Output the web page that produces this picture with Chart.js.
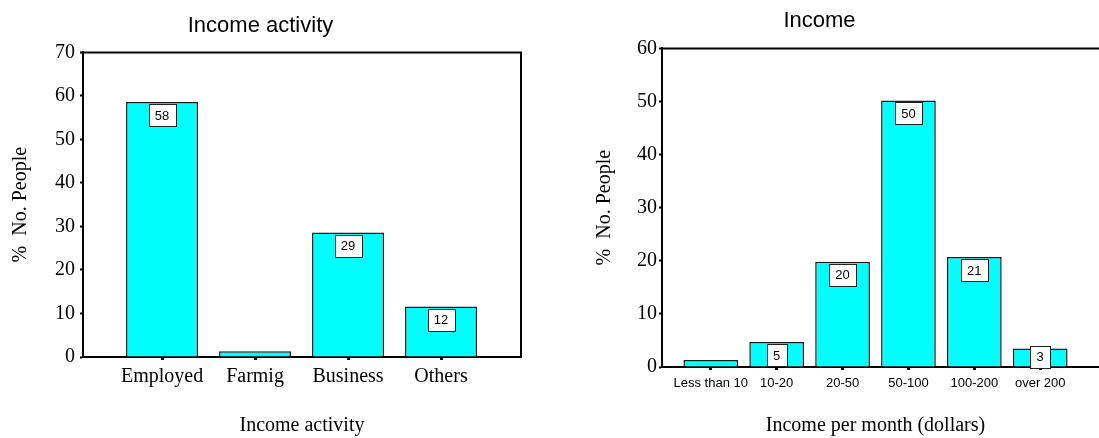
<!DOCTYPE html>
<html>
<head>
<meta charset="utf-8">
<script src="https://cdn.jsdelivr.net/npm/chart.js@4.4.1/dist/chart.umd.min.js"></script>
<style>
  html, body { margin: 0; padding: 0; background: #fff; overflow: hidden; }
  #wrap { position: relative; width: 1099px; height: 438px; }
  #c1 { position: absolute; left: 0; top: 0; }
  #c2 { position: absolute; left: 550px; top: 0; }
</style>
</head>
<body>
<div id="wrap">
  <canvas id="c1" width="550" height="438"></canvas>
  <canvas id="c2" width="549" height="438"></canvas>
</div>
<script>
// left chart: income activity
const activityLabels = ['Employed', 'Farmig', 'Business', 'Others'];
const activityValues = [58.6, 1.3, 28.6, 11.6];
const activityBoxes = [58, null, 29, 12];
const activityTicks = [0, 10, 20, 30, 40, 50, 60, 70];

// right chart: income per month
const incomeLabels = ['Less than 10', '10-20', '20-50', '50-100', '100-200', 'over 200'];
const incomeValues = [1.3, 4.7, 19.8, 50.2, 20.7, 3.5];
const incomeBoxes = [null, 5, 20, 50, 21, 3];
const incomeTicks = [0, 10, 20, 30, 40, 50, 60];

const serif = '"Liberation Serif", "Times New Roman", serif';
const sans = '"Liberation Sans", Arial, sans-serif';

function framePlugin(extendRight) {
  return {
    id: 'frame',
    afterDraw(chart) {
      const ctx = chart.ctx;
      const a = chart.chartArea;
      ctx.save();
      ctx.strokeStyle = '#000';
      ctx.lineWidth = 2;
      ctx.beginPath();
      if (extendRight) {
        ctx.moveTo(a.left, a.top);
        ctx.lineTo(chart.width, a.top);
        ctx.moveTo(a.right, a.bottom);
        ctx.lineTo(chart.width, a.bottom);
      } else {
        ctx.moveTo(a.left, a.top);
        ctx.lineTo(a.right, a.top);
        ctx.lineTo(a.right, a.bottom);
      }
      ctx.stroke();
      ctx.restore();
    }
  };
}

function boxPlugin(boxes) {
  return {
    id: 'boxes',
    afterDraw(chart) {
      const ctx = chart.ctx;
      const meta = chart.getDatasetMeta(0);
      ctx.save();
      ctx.font = '13px ' + sans;
      ctx.textAlign = 'center';
      ctx.textBaseline = 'middle';
      meta.data.forEach((bar, i) => {
        const v = boxes[i];
        if (v == null) return;
        const t = String(v);
        const w = Math.round(ctx.measureText(t).width + 13);
        const h = 22;
        const cy = Math.min(bar.y + 13, bar.base - 10);
        const x0 = Math.round(bar.x - w / 2) + 0.5;
        const y0 = Math.round(cy - h / 2) + 0.5;
        ctx.fillStyle = '#fff';
        ctx.fillRect(x0, y0, w, h);
        ctx.strokeStyle = '#222';
        ctx.lineWidth = 1;
        ctx.strokeRect(x0, y0, w, h);
        ctx.fillStyle = '#000';
        ctx.fillText(t, bar.x, cy + 1);
      });
      ctx.restore();
    }
  };
}

function makeChart(canvas, cfg) {
  return new Chart(canvas.getContext('2d'), {
    type: 'bar',
    data: {
      datasets: [{
        data: cfg.values.map((v, i) => ({ x: i, y: v })),
        backgroundColor: '#00FFFF',
        borderColor: '#1a1a1a',
        borderWidth: 1.5,
        borderSkipped: 'bottom',
        barPercentage: 1,
        categoryPercentage: cfg.barFrac
      }]
    },
    options: {
      responsive: false,
      animation: false,
      layout: { padding: { left: 0, right: cfg.padRight, top: 0, bottom: 0 } },
      plugins: {
        legend: { display: false },
        tooltip: { enabled: false },
        title: {
          display: true,
          text: cfg.title,
          color: '#000',
          font: { family: sans, size: 22, weight: 'normal' },
          padding: { top: cfg.titleTop, bottom: cfg.titleBottom }
        }
      },
      scales: {
        x: {
          type: 'linear',
          offset: false,
          min: cfg.xMin,
          max: cfg.xMax,
          afterBuildTicks: (scale) => {
            scale.ticks = cfg.labels.map((_, i) => ({ value: i }));
          },
          afterFit: (scale) => { scale.height = cfg.xHeight; },
          ticks: {
            autoSkip: false,
            maxRotation: 0,
            color: '#000',
            padding: cfg.xTickPad,
            font: cfg.xTickFont,
            callback: (v) => cfg.labels[v]
          },
          grid: { offset: false, drawOnChartArea: false, drawTicks: true, tickLength: 3, tickWidth: 3, tickColor: '#000' },
          border: { display: true, color: '#000', width: 2 },
          title: {
            display: true,
            text: cfg.xTitle,
            color: '#000',
            font: { family: serif, size: 20 },
            padding: { top: 0, bottom: 0 }
          }
        },
        y: {
          min: 0,
          max: cfg.yTicks[cfg.yTicks.length - 1],
          afterBuildTicks: (scale) => {
            scale.ticks = cfg.yTicks.map(v => ({ value: v }));
          },
          afterFit: (scale) => { scale.width = cfg.yWidth; },
          ticks: {
            color: '#000',
            padding: cfg.yTickPad,
            font: { family: serif, size: 20 }
          },
          grid: { drawOnChartArea: false, drawTicks: true, tickLength: 3, tickWidth: 2, tickColor: '#000' },
          border: { display: true, color: '#000', width: 2 },
          title: {
            display: true,
            text: '%  No. People',
            color: '#000',
            font: { family: serif, size: 20 },
            padding: { top: cfg.yTitleTop, bottom: 0 }
          }
        }
      }
    },
    plugins: [framePlugin(cfg.extendRight), boxPlugin(cfg.boxes)]
  });
}

makeChart(document.getElementById('c1'), {
  title: 'Income activity',
  labels: activityLabels,
  values: activityValues,
  boxes: activityBoxes,
  yTicks: activityTicks,
  xTitle: 'Income activity',
  xMin: -0.85, xMax: 3.86,
  barFrac: 0.774,
  padRight: 29,
  titleTop: 13, titleBottom: 13,
  xHeight: 81, yWidth: 83,
  xTickPad: 5, yTickPad: 5,
  xTickFont: { family: serif, size: 20 },
  yTitleTop: 9,
  extendRight: false
});

makeChart(document.getElementById('c2'), {
  title: 'Income',
  labels: incomeLabels,
  values: incomeValues,
  boxes: incomeBoxes,
  yTicks: incomeTicks,
  xTitle: 'Income per month (dollars)',
  xMin: -0.74, xMax: 5.74,
  barFrac: 0.83,
  padRight: 10,
  titleTop: 8, titleBottom: 14,
  xHeight: 71, yWidth: 112,
  xTickPad: 6, yTickPad: 2,
  xTickFont: { family: sans, size: 13 },
  yTitleTop: 43,
  extendRight: true
});
</script>
</body>
</html>
